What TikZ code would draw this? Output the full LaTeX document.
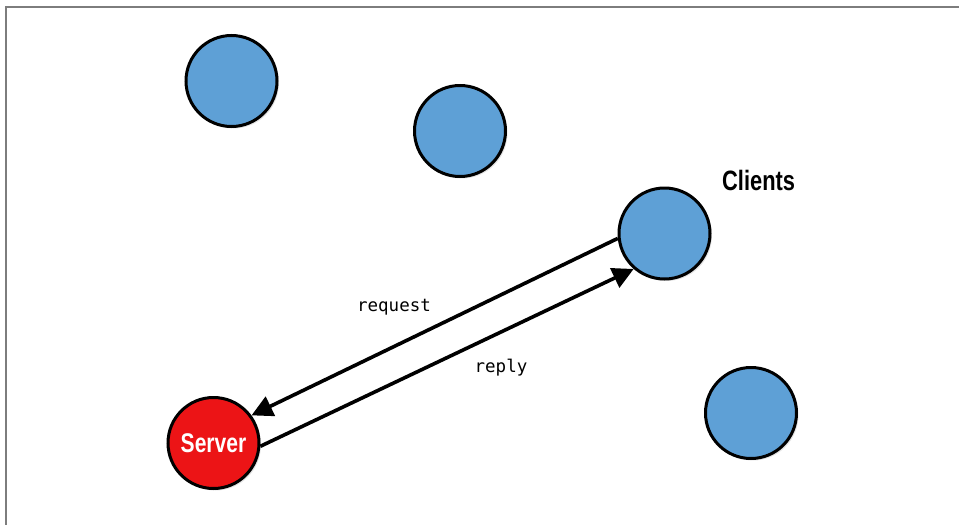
\documentclass[tikz,border=0pt]{standalone}
\usepackage{fontspec}
\newfontfamily\condfont{Liberation Sans}[FakeStretch=0.78]
\newfontfamily\monofont{DejaVu Sans Mono}
\usetikzlibrary{arrows.meta,shadows}
\definecolor{clientblue}{RGB}{94,160,214}
\definecolor{serverred}{RGB}{236,20,22}
\definecolor{framegray}{RGB}{125,125,125}
\tikzset{
  ball/.style={circle,draw=black,line width=3pt,minimum size=91pt,inner sep=0pt,
    drop shadow={opacity=0.22,shadow xshift=2pt,shadow yshift=-2pt}},
  client/.style={ball,fill=clientblue},
  server/.style={ball,fill=serverred,text=white,font=\condfont\bfseries\fontsize{27}{27}\selectfont},
  msg/.style={line width=3.6pt,-{Triangle[length=21pt,width=21pt]}},
  lbl/.style={font=\monofont\fontsize{17.5}{17.5}\selectfont,inner sep=0pt}
}
\begin{document}
\begin{tikzpicture}[x=1pt,y=-1pt]
\useasboundingbox (0,0) rectangle (959,525);
\draw[framegray,line width=2pt] (5.5,525) coordinate (fbl) -- (5.5,6.5) coordinate (ftl) -- (959,6.5) coordinate (ftr);
\node[client] (c1) at (231.5,81) {};
\node[client] (c2) at (460,131) {};
\node[client] (c3) at (664.5,233.5) {};
\node[client] (c4) at (751,413) {};
\node[server] (srv) at (213.5,443) {Server};
\node[font=\condfont\bfseries\fontsize{28}{28}\selectfont,inner sep=0pt,anchor=west] (cl) at (722,180) {Clients};
\draw[msg] (c3.186) -- (srv.36);
\draw[msg] (srv.356) -- (c3.229);
\node[lbl] (rq) at (394,307) {request};
\node[lbl] (rp) at (501,368) {reply};
\end{tikzpicture}
\end{document}
